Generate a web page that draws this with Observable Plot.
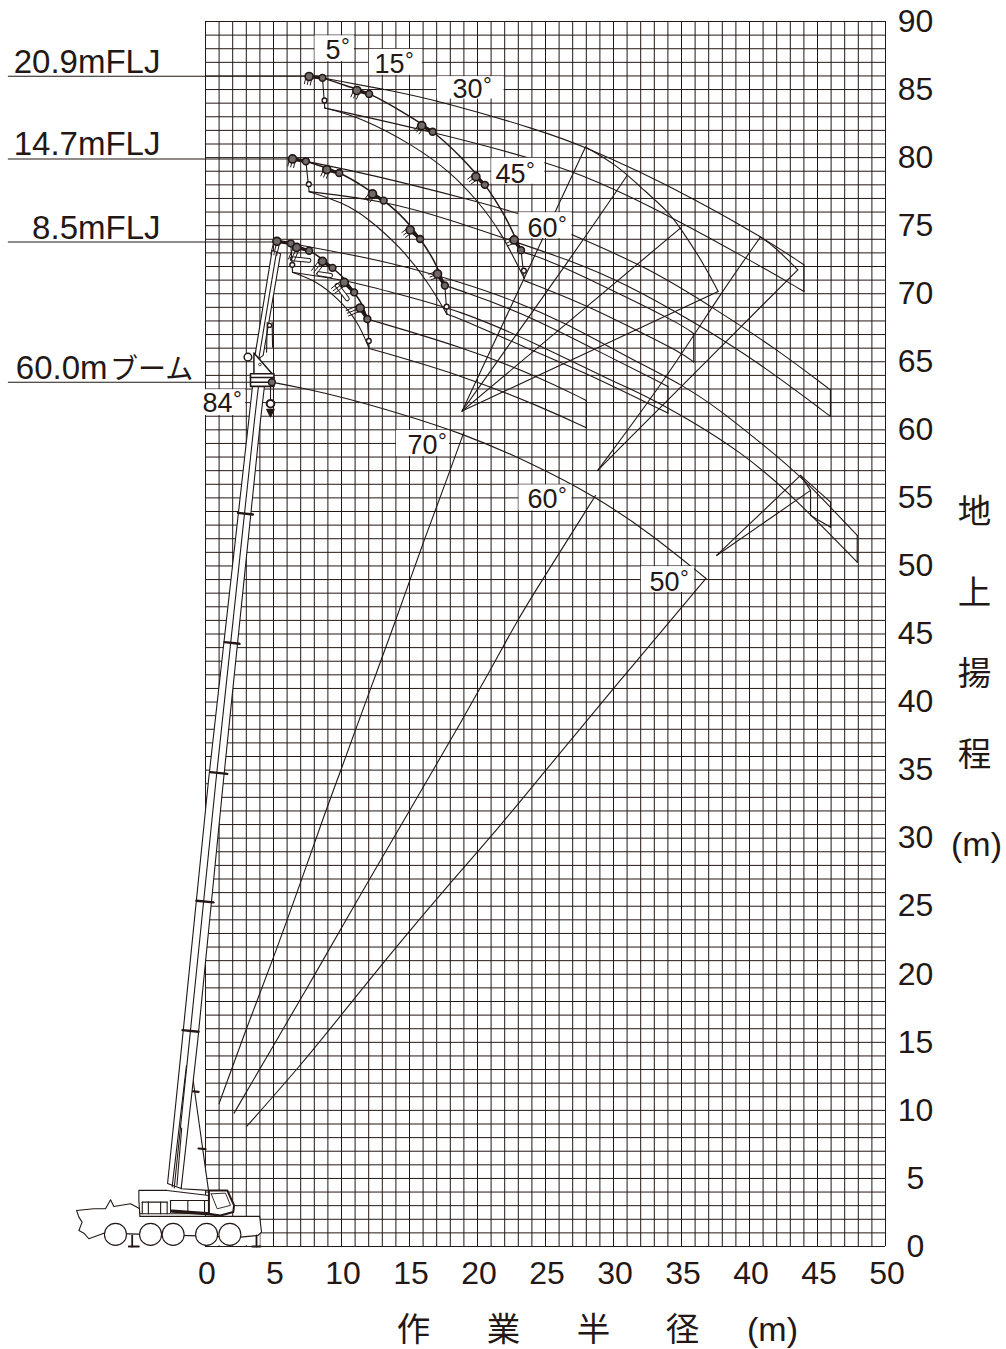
<!DOCTYPE html>
<html><head><meta charset="utf-8">
<style>html,body{margin:0;padding:0;background:#fff;overflow:hidden}svg{display:block}</style>
<script src="https://cdn.jsdelivr.net/npm/d3@7"></script>
<script src="https://cdn.jsdelivr.net/npm/@observablehq/plot@0.6"></script>
</head><body>
<script>
const INK = "#231815";
const LATIN = "'Liberation Sans',Arial,Helvetica,sans-serif";
const CJK = "'Noto Sans CJK JP','Liberation Sans',sans-serif";

const xTicks = d3.range(0, 51, 5);
const yTicks = d3.range(0, 91, 5);
const xGrid = d3.range(0, 51, 1);
const yGrid = d3.range(0, 91, 1);

// ---- 60 m boom envelope and boom-angle radials
const boomArc = [[4.88,63.5],[7,63.1],[10.5,62.3],[14.3,61.2],[18.75,59.8],[23.9,57.6],[28.7,55.1],[32.7,52.4],[36.8,49.08]];
const radial70 = [[1,10.5],[2.84,15.6],[4.93,21],[6.96,26.65],[8.85,32.04],[9.95,34.97],[11.9,40.36],[14,46],[15.83,51.26],[17.9,56.77],[19,59.83]];
const radial60 = [[2.1,9.8],[4.93,14.65],[8,19.9],[10.93,25.05],[13,28.6],[16.3,34.24],[18.77,38.5],[21,42.44],[23.06,46.24],[24.66,48.8],[28.68,55.18]];
const radial50 = [[3.04,8.84],[7,13.3],[9.95,16.97],[14,22],[18.04,26.77],[21,30.1],[24.4,34.24],[30.4,41.5],[36.8,49.08]];

// ---- 20.9 m jib
const tipA209 = [[7.62,85.96],[11.13,84.93],[15.9,82.35],[19.88,78.6],[22.7,73.95]];
const tipB209 = [[8.6,85.86],[12.03,84.68],[16.7,81.9],[20.54,78],[23.2,73.2]];
const locusUp209 = [[8.6,85.86],[10.3,85.3],[12.03,84.68],[14.4,83.4],[16.7,81.9],[18.7,80.1],[20.54,78],[22,75.7],[23.2,73.2]];
const locusLow209 = [[8.77,83.65],[11.42,82.96],[15.34,80.88],[18.04,78.92],[20,76.84],[21.7,74.6],[23.43,71.14]];
const reach209a = [[8.6,85.86],[13,85.05],[17.3,84.15],[24.66,81.99],[27.94,80.78],[31.98,78.94],[35.9,76.98],[40.93,74.16],[44,72.13]];
const reach209b = [[8.77,83.65],[16.7,81.9],[24.63,79.78],[27.45,78.82],[32.23,76.73],[40,72.5],[44,70.17]];
const reach209c = [[23.28,73.06],[24.63,72.7],[28.43,70.98],[34.93,67.8],[35.9,67.06]];
const reach209d = [[23.4,70.98],[28.06,69.14],[31.74,67.3],[34.93,65.71],[35.9,64.98]];
const arc209 = [[27.94,80.78],[30.27,79.43],[31.98,77.84],[34.07,76],[34.92,74.82],[36.64,72.2],[37.69,70.17]];
const hub209 = [18.87,61.38];
const spoke209a = [hub209,[27.94,80.78]];
const spoke209b = [hub209,[27.94,74.16],[31,78.69]];
const spoke209c = [hub209,[34.92,74.82]];
const spoke209d = [hub209,[37.69,70.17]];

// ---- 14.7 m jib
const tipA147 = [[6.4,79.9],[8.92,79.12],[12.28,77.33],[15.05,74.68],[17.06,71.45]];
const tipB147 = [[7.38,79.73],[9.83,78.87],[13.1,76.84],[15.78,74.02],[17.6,70.6]];
const locusUp147 = [[7.38,79.73],[9.83,78.87],[11.5,77.95],[13.1,76.84],[14.6,75.5],[15.78,74.02],[16.8,72.4],[17.6,70.6]];
const locusLow147 = [[7.62,77.5],[10.07,76.71],[11.9,75.6],[14.36,73.4],[16.3,70.96],[17.75,68.5]];
const reach147a = [[7.38,79.73],[12,78.8],[19.9,76.8],[23.55,75.78],[27.08,74.28],[32.72,71.84],[37.62,68.77],[41.79,66.08],[45.95,62.94]];
const reach147b = [[7.62,77.5],[13.1,76.84],[18,75.44],[22.42,73.92],[26.96,72.4],[30.76,70.8],[36.15,67.8],[40.8,64.86],[45.95,60.99]];
const reach147c = [[17.6,70.6],[18.75,70.25],[23.16,68.65],[28.06,66.2],[34,63.19]];
const reach147d = [[17.75,68.5],[18.75,68.16],[23.16,66.2],[27.57,64.37],[34,61.23]];
const arc147 = [[40.8,74.16],[41.8,73.5],[43.55,71.76]];
const hub147 = [28.84,57.02];
const spoke147a = [hub147,[33.94,63.88],[37.87,70],[40.8,74.16]];
const spoke147b = [hub147,[39.46,67.67],[43.55,71.76]];

// ---- 8.5 m jib
const tipA85 = [[5.25,73.85],[6.7,73.4],[8.6,72.38],[10.2,70.83],[11.37,68.95]];
const tipB85 = [[6.27,73.7],[7.62,73.16],[9.34,71.9],[10.93,70.1],[11.9,68.14]];
const locusUp85 = [[6.27,73.7],[7.62,73.16],[8.5,72.6],[9.34,71.9],[10.2,71.1],[10.93,70.1],[11.5,69.2],[11.9,68.14]];
const locusLow85 = [[6.4,71.57],[8.12,70.95],[9.7,69.7],[11.2,68],[12.03,65.98]];
const reach85a = [[6.27,73.7],[7.72,73.43],[13.6,72.32],[18.75,70.86],[22.67,69.51],[26.59,67.8],[31,65.35],[35.18,63.26],[37.87,61.43],[41.06,58.85],[43.75,56.65],[47.92,52.24]];
const reach85b = [[6.4,71.57],[10.42,70.98],[13.6,70.12],[18.75,68.78],[24.63,66.2],[29.78,63.63],[31.99,62.7],[35.67,60.7],[39.34,58.36],[42.53,55.79],[47.92,50.28]];
const reach85c = [[43.75,56.65],[45.96,54.69]];
const reach85e = [[11.9,68.14],[18.75,66.13],[24.39,63.95],[28,62.16]];
const reach85f = [[12.03,65.98],[18.75,64.05],[24.66,61.7],[28,60.15]];
const arc85 = [[43.75,56.65],[44.49,55.55],[44.49,53.7],[45.96,52.85]];
const hub85 = [37.58,50.77];
const spoke85a = [hub85,[43.75,56.65]];
const spoke85b = [hub85,[44.49,55.55]];

const smoothCurves = [boomArc,radial70,radial60,radial50,
  reach209a,reach209b,reach209c,reach209d,arc209,spoke209b,spoke147a,spoke147b,arc147,
  reach147a,reach147b,reach147c,reach147d,
  reach85a,reach85b,reach85e,reach85f,
  locusLow209,locusLow147,locusLow85];
const straightLines = [spoke209a,spoke209c,spoke209d,arc85,spoke85a,spoke85b,reach85c];
const heavyCurves = [locusUp209,locusUp147,locusUp85];
const endCaps = [[[44,72.13],[44,70.17]],[[45.95,62.94],[45.95,60.99]],[[35.9,67.06],[35.9,64.98]],[[34,63.19],[34,61.23]],[[47.92,52.24],[47.92,50.28]],[[45.96,54.69],[45.96,52.85]],[[28,62.16],[28,60.15]]];

const tipSets = [
  {a:tipA209,b:tipB209,low:[[8.77,83.65],[23.43,71.14]],len:.5},
  {a:tipA147,b:tipB147,low:[[7.62,77.5],[17.75,68.5]],len:.5},
  {a:tipA85,b:tipB85,low:[[6.4,71.57],[12.03,65.98]],len:.85}];
const offsets = [5,15,30,45,60];
const jibRods = [[[6.38,72.57],[7.6,72.45]],[[8.34,71.47],[9.19,71.34]],[[9.68,70.61],[10.42,69.63]]];

// ---- leader lines and text
const leaders = [
  {label:"20.9mFLJ",y:85.98,end:7.6,xText:-3.31,yText:86.2},
  {label:"14.7mFLJ",y:79.9,end:6.4,xText:-3.31,yText:80.16},
  {label:"8.5mFLJ",y:73.8,end:5.25,xText:-3.31,yText:74.04},
  {label:"60.0m",y:63.5,end:3.9,xText:-7.2,yText:63.75}];
const leaderStart = -14.5;
const boomWord = [{label:"ブーム",x:-0.9,y:63.75}];

const angleLabels = ["5","15","30","45","60","84","70","60","50"];
const angleX = [8.82,12.43,18.16,21.32,23.68,-0.22,14.85,23.68,32.65];
const angleY = [87.27,86.19,84.35,78.16,74.16,61.3,58.19,54.25,48.15];
const boxX1 = [8.05,12.05,17.05,21.05,23.05,-0.6,14.05,23.05,32.05];
const boxX2 = [10.95,15.95,21.95,24.95,26.95,2.95,17.95,26.95,35.95];
const boxY1 = [87.05,86.05,84.3,78.05,74.05,61.05,58.05,54.05,48.05];
const boxY2 = [88.95,87.95,85.95,79.95,75.95,62.95,59.95,55.95,49.95];
const angleRows = angleLabels.map((t,i)=>({t,x:angleX[i],y:angleY[i],x1:boxX1[i],x2:boxX2[i],y1:boxY1[i],y2:boxY2[i]}));

const xTitle = [{t:"作",x:15.29},{t:"業",x:21.91},{t:"半",x:28.53},{t:"径",x:35.07}];
const yTitle = [{t:"地",y:53.93},{t:"上",y:47.98},{t:"揚",y:42.03},{t:"程",y:36.08}];

// ---- crane
const boomLeft = [[-2.79,4.63],[-1.71,15.14],[0.22,34.24],[3.18,60.69],[3.46,63.26]];
const boomRight = [[-1.79,4.26],[-0.57,15.14],[1.32,34.24],[4.04,60.69],[4.34,63.26]];
const boomCenter = [[-2.3,4.3],[-1.18,15.14],[0.77,34.24],[3.6,60.69],[3.9,63.26]];
const bands = [[[2.39,53.9],[3.49,53.78]],[[1.4,44.4],[2.5,44.28]],[[.37,34.85],[1.6,34.72]],[[-.66,25.4],[.59,25.28]],[[-1.69,15.9],[-.51,15.78]]];
const derrick = [[-1.35,11.96],[-1.2,12.9],[-.98,12.71],[.22,4.12],[-1.79,4.24]];
const derrickCollars = [[[-1.47,11.46],[-.51,11.36]],[[-.51,7.2],[0,7.15]]];
const liftCyl = [[[-1.4,13.3],[-2.45,4.4]],[[-1.75,8.7],[-2.1,4.5]]];

const jibLeft = [[3.56,64.98],[4.9,73.18]];
const jibRight = [[4.24,65.47],[5.52,72.94]];
const jibCenter = [[3.92,65.22],[5.22,73.06]];
const strut = [[[4.54,67.9],[4.49,65.71]],[[4.9,67.9],[4.93,66.08]]];
const bracket = [[3.56,65.64],[4.9,64.12],[3.56,63.87]];
const headBlock = [[3.31,64.12],[5.03,64.12],[5.03,63.19],[3.31,63.19]];
const hookLine = [[4.78,63.2],[4.78,62.3]];
const hookTri = [[4.5,61.5],[5.05,61.5],[4.78,60.95]];

const carrier = [[-9.48,2.65],[-8.21,2.77],[-7.35,2.77],[-6.98,3.43],[-6.74,2.94],[-5.51,3.14],[-4.83,2.77],[-4.83,2.21],[3.98,2.21],[4.12,1.06],[3.85,.81],[2.58,.69],[-7.47,.98],[-8.58,.57],[-8.94,.98],[-9.31,1.18],[-9.07,1.79],[-9.31,2.16]];
const wheelX = [-6.62,-4.04,-2.38,.08,1.79];
const wheelY = .89;
const outriggers = [[[-5.39,.81],[-5.39,0]],[[-5.64,0],[-4.9,0]],[[3.75,.81],[3.75,0]],[[3.43,0],[4.05,0]]];
const upper = [[-4.9,4.12],[-2.82,4.12],[.25,3.75],[.25,2.41],[-4.83,2.41],[-4.9,3.38]];
const cab = [[.25,4.12],[1.6,4.12],[2.1,3.02],[2.04,2.53],[1.1,2.28],[.25,2.41]];
const cabWindow = [[.42,3.87],[1.47,3.92],[1.84,3.02],[.86,2.77]];
const upperLines = [[[-2.57,3.4],[-2.57,2.5]],[[-1.3,3.38],[-1.3,2.5]],[[-.07,3.38],[-.07,2.5]],[[-2.57,3.38],[.25,3.38]],[[-4.65,3.26],[-2.82,3.26]],[[-4.65,3.26],[-4.65,2.41]],[[-4.2,3.26],[-4.2,2.41]],[[-3.3,3.26],[-3.3,2.41]],[[-2.82,3.26],[-2.82,2.41]]];
const upperBand = [[-2.45,2.6],[.86,2.36]];

const X = d=>d[0], Y = d=>d[1];
const thin = (pts,o={}) => Plot.line(pts,{x:X,y:Y,stroke:INK,strokeWidth:1.1,...o});
const poly = (pts,o={}) => Plot.line([...pts,pts[0]],{x:X,y:Y,stroke:INK,strokeWidth:1.1,fill:"white",...o});

// tip drawing
const tipMarks = tipSets.flatMap(s => {
  const ticks = s.a.flatMap((p,i)=>{
    const ang = (offsets[i]+8)*Math.PI/180;
    const dirx = -Math.sin(ang), diry = -Math.cos(ang);
    return [-.22,.0,.22].map(o=>[[p[0]+Math.cos(ang)*o,p[1]-Math.sin(ang)*o],[p[0]+Math.cos(ang)*o+dirx*s.len*1.2,p[1]-Math.sin(ang)*o+diry*s.len*1.2]]);
  });
  const links = s.a.map((p,i)=>[p,s.b[i]]);
  const rods = [[s.b[0],s.low[0]],[s.b[4],s.low[1]]];
  const caps = rods.map(r=>[r[1][0]-.02,r[1][1]+.55]);
  return [
    ticks.map(t=>thin(t,{strokeWidth:1})),
    links.map(l=>thin(l,{strokeWidth:3.4})),
    rods.map(r=>thin(r,{strokeWidth:1.1})),
    Plot.dot(caps,{x:X,y:Y,r:2.4,fill:"white",stroke:INK,strokeWidth:1.4}),
    Plot.dot(s.a,{x:X,y:Y,r:4,fill:"#6f6a67",stroke:INK,strokeWidth:1.7}),
    Plot.dot(s.b,{x:X,y:Y,r:3.4,fill:"#6f6a67",stroke:INK,strokeWidth:1.6})
  ];
});

const chart = Plot.plot({
  width:1006, height:1349,
  marginLeft:205, marginRight:121, marginTop:21, marginBottom:103,
  x:{domain:[0,50]}, y:{domain:[0,90]},
  style:{fontFamily:LATIN, background:"white", overflow:"visible"},
  marks:[
    Plot.gridX(xGrid,{stroke:INK,strokeOpacity:1,strokeWidth:1}),
    Plot.gridY(yGrid,{stroke:INK,strokeOpacity:1,strokeWidth:1}),
    smoothCurves.map(c=>thin(c,{curve:"basis"})),
    straightLines.map(c=>thin(c)),
    endCaps.map(c=>thin(c)),
    heavyCurves.map(c=>thin(c,{curve:"catmull-rom",strokeWidth:1.5})),
    leaders.map(l=>thin([[leaderStart,l.y],[l.end,l.y]])),

    // crane: carrier
    Plot.rect([{}],{x1:-.07,x2:4.02,y1:.06,y2:2.2,fill:"white"}),
    poly(carrier),
    Plot.dot(wheelX,{x:d=>d,y:()=>wheelY,r:11,fill:"white",stroke:INK,strokeWidth:1.1}),
    outriggers.map(o=>thin(o,{strokeWidth:1.8})),
    // boom
    poly(derrick),
    derrickCollars.map(c=>thin(c,{strokeWidth:2.2})),
    poly([...boomLeft,...[...boomRight].reverse()]),
    thin(boomCenter),
    liftCyl.map(c=>thin(c)),
    bands.map(b=>thin(b,{strokeWidth:2.4})),
    // superstructure
    poly(upper),
    upperLines.map(l=>thin(l)),
    thin(upperBand,{strokeWidth:3.2}),
    poly(cab,{strokeWidth:2}),
    poly(cabWindow,{strokeWidth:.9}),
    // jib stub and head
    poly([...jibLeft,...[...jibRight].reverse()]),
    thin(jibCenter),
    strut.map(s=>thin(s)),
    Plot.dot([[4.71,67.67]],{x:X,y:Y,r:2,fill:"white",stroke:INK,strokeWidth:1.2}),
    poly(bracket,{strokeWidth:1.5}),
    Plot.dot([[4,64.8]],{x:X,y:Y,r:1.3,fill:"white",stroke:INK,strokeWidth:.8}),
    Plot.dot([[3.12,65.34]],{x:X,y:Y,r:3.8,fill:"white",stroke:INK,strokeWidth:1.5}),
    poly(headBlock,{strokeWidth:1.6,fill:"white"}),
    thin([[3.31,63.85],[5.03,63.85]],{strokeWidth:1.6}),
    thin([[3.31,63.5],[5.03,63.5]],{strokeWidth:1.6}),
    Plot.dot([[4.88,63.5]],{x:X,y:Y,r:3.4,fill:"#6f6a67",stroke:INK,strokeWidth:1.5}),
    thin(hookLine),
    Plot.dot([[4.78,61.92]],{x:X,y:Y,r:3.8,fill:"white",stroke:INK,strokeWidth:2}),
    poly(hookTri,{fill:INK}),
    jibRods.map(r=>thin(r,{strokeWidth:5})),
    jibRods.map(r=>thin(r,{strokeWidth:3,stroke:"white"})),
    tipMarks,

    // angle labels
    Plot.rect(angleRows,{x1:"x1",x2:"x2",y1:"y1",y2:"y2",fill:"white"}),
    Plot.text(angleRows,{x:"x",y:"y",text:"t",textAnchor:"start",lineAnchor:"bottom",fontSize:27,fill:INK}),
    Plot.text(angleRows,{x:d=>d.x+(d.t.length>1?2.57:1.47),y:"y",text:()=>"°",textAnchor:"middle",lineAnchor:"bottom",dy:-5,fontSize:22,fill:INK}),

    // leader text
    Plot.text(leaders,{x:"xText",y:"yText",text:"label",textAnchor:"end",lineAnchor:"bottom",fontSize:33,fill:INK}),
    Plot.text(boomWord,{x:"x",y:"y",text:"label",textAnchor:"end",lineAnchor:"bottom",fontSize:28,fill:INK,fontFamily:CJK}),

    // axes
    Plot.axisX(xTicks,{anchor:"bottom",tickSize:0,tickPadding:15,dx:1.5,fontSize:32,fill:INK,label:null,tickFormat:d=>d}),
    Plot.axisY(yTicks,{anchor:"right",tickSize:0,tickPadding:30,textAnchor:"middle",fontSize:32,fill:INK,label:null,tickFormat:d=>d}),
    Plot.text(xTitle,{x:"x",y:()=>-6.17,text:"t",fontSize:33.5,fontFamily:CJK,fill:INK}),
    Plot.text(["(m)"],{x:()=>41.69,y:()=>-6.17,text:d=>d,fontSize:34,fill:INK}),
    Plot.text(yTitle,{x:()=>56.54,y:"y",text:"t",fontSize:33.5,fontFamily:CJK,fill:INK}),
    Plot.text(["(m)"],{x:()=>56.69,y:()=>29.46,text:d=>d,fontSize:34,fill:INK})
  ]
});
document.body.appendChild(chart);
</script>
</body></html>
